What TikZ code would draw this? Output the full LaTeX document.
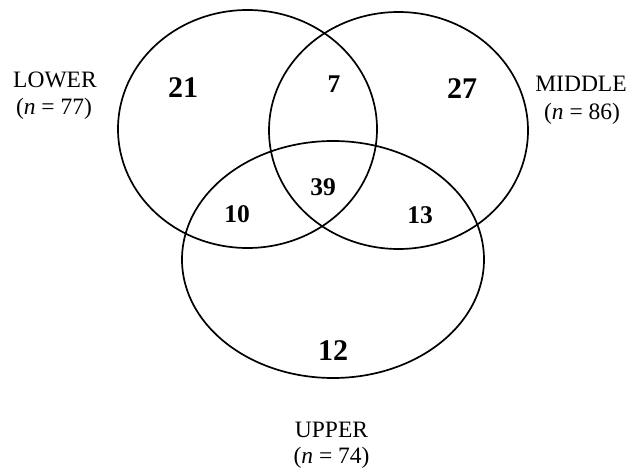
\documentclass[tikz,border=0pt]{standalone}
\usepackage{fontspec}
\setmainfont{Liberation Serif}
\begin{document}
\begin{tikzpicture}[x=1pt,y=-1pt,
  ring/.style={draw=black,line width=1.7pt},
  setlbl/.style={inner sep=0pt,anchor=base,font=\fontsize{23.5}{27}\selectfont},
  bignum/.style={inner sep=0pt,anchor=base,font=\fontsize{30}{33}\selectfont\bfseries},
  smallnum/.style={inner sep=0pt,anchor=base,font=\fontsize{25.5}{29}\selectfont\bfseries}]
\useasboundingbox (0,0) rectangle (629,470);
% circles
\draw[ring] (247.5,129) ellipse [x radius=129.5pt, y radius=119pt];
\draw[ring] (398.5,130.5) ellipse [x radius=129.5pt, y radius=118.5pt];
\draw[ring] (333,259.5) ellipse [x radius=151pt, y radius=118.5pt];
% region counts
\node[bignum] (n21) at (183,98) {21};
\node[smallnum] (n7) at (334,93) {7};
\node[bignum] (n27) at (462,99) {27};
\node[smallnum] (n39) at (323,196) {39};
\node[smallnum] (n10) at (237,223) {10};
\node[smallnum] (n13) at (420,224) {13};
\node[bignum] (n12) at (333,360) {12};
% set labels
\node[setlbl] (lowA) at (55,88) {LOWER};
\node[setlbl] (lowB) at (54,115) {(\textit{n} = 77)};
\node[setlbl] (midA) at (581,92) {MIDDLE};
\node[setlbl] (midB) at (582,120) {(\textit{n} = 86)};
\node[setlbl] (upA) at (331.5,437) {UPPER};
\node[setlbl] (upB) at (331.5,463) {(\textit{n} = 74)};
\end{tikzpicture}
\end{document}
